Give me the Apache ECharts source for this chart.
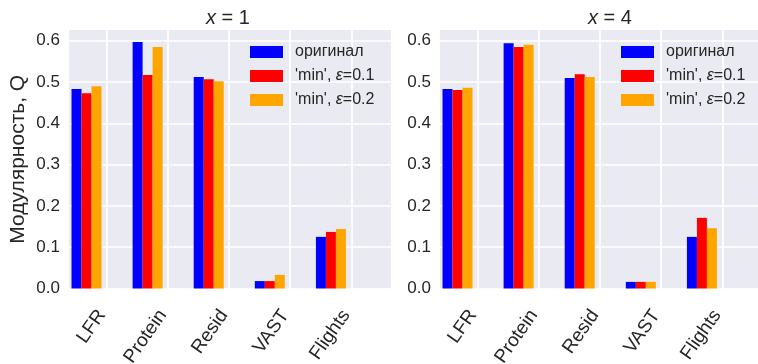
<!DOCTYPE html>
<html><head><meta charset="utf-8">
<script src="https://cdn.jsdelivr.net/npm/echarts@6/dist/echarts.min.js"></script>
<style>html,body{margin:0;padding:0;background:#fff}#c{width:758px;height:364px}</style>
</head><body><div id="c"></div>
<script>
const categories = ['LFR', 'Protein', 'Resid', 'VAST', 'Flights'];
const seriesNames = ['оригинал', "'min', ε=0.1", "'min', ε=0.2"];
const seriesColors = ['#0000FF', '#FF0000', '#FFA500'];
const yTicks = [0, 0.1, 0.2, 0.3, 0.4, 0.5, 0.6];
const x1_original = [0.483, 0.597, 0.512, 0.018, 0.125];
const x1_min01    = [0.473, 0.517, 0.507, 0.018, 0.137];
const x1_min02    = [0.490, 0.585, 0.502, 0.033, 0.144];
const x4_original = [0.483, 0.594, 0.510, 0.016, 0.125];
const x4_min01    = [0.481, 0.585, 0.519, 0.016, 0.171];
const x4_min02    = [0.486, 0.590, 0.512, 0.016, 0.146];
const panels = [
  {title: '{it|x} = 1', values: [x1_original, x1_min01, x1_min02]},
  {title: '{it|x} = 4', values: [x4_original, x4_min01, x4_min02]}
];

const txt = '#262626';
const font = '"Liberation Sans", Arial, sans-serif';
const gridLefts = [69, 440];
const gridW = 322, gridTop = 30, gridH = 258.5;
const groupOffset = -1 / 3;
const tickIdx = categories.map((c, i) => i);

const legendFmt = {};
legendFmt[seriesNames[0]] = 'оригинал';
legendFmt[seriesNames[1]] = "'min', {it|ε}=0.1";
legendFmt[seriesNames[2]] = "'min', {it|ε}=0.2";

const option = {
  animation: false,
  backgroundColor: '#fff',
  textStyle: {fontFamily: font},
  title: panels.map((p, k) => ({
    text: p.title,
    left: [223, 605][k], top: 3, textAlign: 'center',
    textStyle: {fontSize: 20, fontWeight: 'normal', color: txt, fontFamily: font,
      rich: {it: {fontStyle: 'italic', fontSize: 20, color: txt, fontFamily: font}}}
  })),
  legend: panels.map((p, k) => ({
    data: seriesNames,
    orient: 'vertical',
    left: [245, 616][k], top: 39,
    itemWidth: 33, itemHeight: 12, itemGap: 8,
    icon: 'rect',
    selectedMode: false,
    formatter: n => legendFmt[n],
    textStyle: {fontSize: 16, color: txt, fontFamily: font, lineHeight: 16, padding: [0, 0, 0, 7],
      rich: {it: {fontStyle: 'italic', fontSize: 16, color: txt, fontFamily: font}}}
  })),
  grid: panels.map((p, k) => ({
    left: gridLefts[k], top: gridTop, width: gridW, height: gridH,
    show: true, backgroundColor: '#EAEAF2', borderWidth: 0, containLabel: false,
    outerBoundsMode: 'none'
  })),
  xAxis: panels.map((p, k) => ({
    type: 'value', gridIndex: k, min: -0.62, max: 4.65,
    axisLine: {show: false},
    axisTick: {show: false, customValues: tickIdx},
    splitLine: {show: true, lineStyle: {color: '#fff', width: 1.7}},
    axisLabel: {customValues: tickIdx, rotate: 55, margin: 16, fontSize: 19, color: txt, fontFamily: font,
      padding: [0, 9, 6, 0],
      formatter: v => categories[Math.round(v)]}
  })),
  yAxis: panels.map((p, k) => ({
    type: 'value', gridIndex: k, min: 0, max: 0.626,
    name: k === 0 ? 'Модулярность, Q' : '',
    nameLocation: 'middle', nameGap: 40, nameRotate: 90,
    nameTextStyle: {fontSize: 21, color: txt, fontFamily: font},
    axisLine: {show: false},
    axisTick: {show: false, customValues: yTicks},
    splitLine: {show: true, lineStyle: {color: '#fff', width: 1.7}},
    axisLabel: {customValues: yTicks, margin: 9, fontSize: 17, color: txt, fontFamily: font,
      formatter: v => v.toFixed(1)}
  })),
  series: []
};
panels.forEach((p, k) => {
  p.values.forEach((vals, s) => {
    option.series.push({
      type: 'bar', name: seriesNames[s], xAxisIndex: k, yAxisIndex: k,
      barWidth: 10, barGap: '0%',
      itemStyle: {color: seriesColors[s]},
      data: vals.map((v, i) => [i + groupOffset, v])
    });
  });
});
const chart = echarts.init(document.getElementById('c'), null, {renderer: 'canvas'});
chart.setOption(option);
</script></body></html>
